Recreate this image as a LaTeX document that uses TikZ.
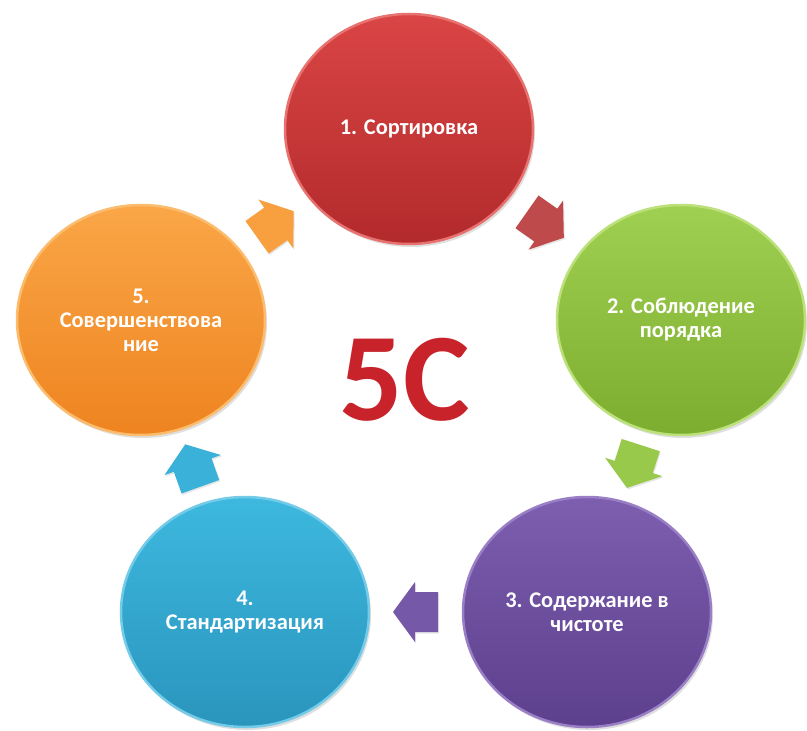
\documentclass[tikz,border=0pt]{standalone}
\usepackage{fontspec}
\setmainfont{Carlito}
\usetikzlibrary{shapes.geometric,shadows,calc}

\definecolor{redtop}{HTML}{DA4545}
\definecolor{redbot}{HTML}{B32A2C}
\definecolor{redrim}{HTML}{E77270}
\definecolor{greentop}{HTML}{A0D052}
\definecolor{greenbot}{HTML}{7CAD2F}
\definecolor{greenrim}{HTML}{BCE07A}
\definecolor{violettop}{HTML}{7D5EAF}
\definecolor{violetbot}{HTML}{5C3F8D}
\definecolor{violetrim}{HTML}{9A7FC6}
\definecolor{bluetop}{HTML}{3DB8DF}
\definecolor{bluebot}{HTML}{2A95BD}
\definecolor{bluerim}{HTML}{74CBE8}
\definecolor{orangetop}{HTML}{FAA647}
\definecolor{orangebot}{HTML}{EE8420}
\definecolor{orangerim}{HTML}{FBBC6E}
\definecolor{fivec}{HTML}{C8232B}

\begin{document}
\begin{tikzpicture}[x=1bp,y=-1bp,
    stage/.style={ellipse, minimum width=248bp, minimum height=230bp, inner sep=0pt,
      align=center, text=white, line width=2.5bp,
      font=\bfseries\fontsize{22.5}{24}\selectfont,
      drop shadow={opacity=0.25, shadow xshift=2bp, shadow yshift=-3bp}},
    flowarrow/.pic={\fill[pic actions, drop shadow={opacity=0.2, shadow xshift=1bp, shadow yshift=-1.5bp}]
      (-22,-20) -- (1,-20) -- (1,-30) -- (23,0) -- (1,30) -- (1,20) -- (-22,20) -- cycle;}]
  \useasboundingbox (0,0) rectangle (807,731);
  % the five steps
  \node[stage, top color=redtop, bottom color=redbot, draw=redrim] (sort) at (409,129) {1. Сортировка};
  \node[stage, top color=greentop, bottom color=greenbot, draw=greenrim] (order) at (681,320) {2. Соблюдение\\порядка};
  \node[stage, top color=violettop, bottom color=violetbot, draw=violetrim] (clean) at (587,612) {3. Содержание в\\чистоте};
  \node[stage, top color=bluetop, bottom color=bluebot, draw=bluerim] (standard) at (245,612) {4.\\Стандартизация};
  \node[stage, top color=orangetop, bottom color=orangebot, draw=orangerim] (improve) at (141,320) {5.\\Совершенствова\\ние};
  % arrows between the steps
  \path let \p1=($(order)-(sort)$), \n1={atan2(\y1,\x1)} in
    pic[fill=redbot!85!white, rotate=\n1] (a12) at ($(sort)!0.5!(order)$) {flowarrow};
  \path let \p1=($(clean)-(order)$), \n1={atan2(\y1,\x1)} in
    pic[fill=greentop!80!greenbot, rotate=\n1] (a23) at ($(order)!0.5!(clean)$) {flowarrow};
  \path let \p1=($(standard)-(clean)$), \n1={atan2(\y1,\x1)} in
    pic[fill=violettop!80!violetbot, rotate=\n1] (a34) at ($(clean)!0.5!(standard)$) {flowarrow};
  \path let \p1=($(improve)-(standard)$), \n1={atan2(\y1,\x1)} in
    pic[fill=bluetop!80!bluebot, rotate=\n1] (a45) at ($(standard)!0.5!(improve)$) {flowarrow};
  \path let \p1=($(sort)-(improve)$), \n1={atan2(\y1,\x1)} in
    pic[fill=orangetop!80!orangebot, rotate=\n1] (a51) at ($(improve)!0.5!(sort)$) {flowarrow};
  % title
  \node[text=fivec, font=\bfseries\fontsize{126}{126}\selectfont] (title) at (405,380) {5C};
\end{tikzpicture}
\end{document}
